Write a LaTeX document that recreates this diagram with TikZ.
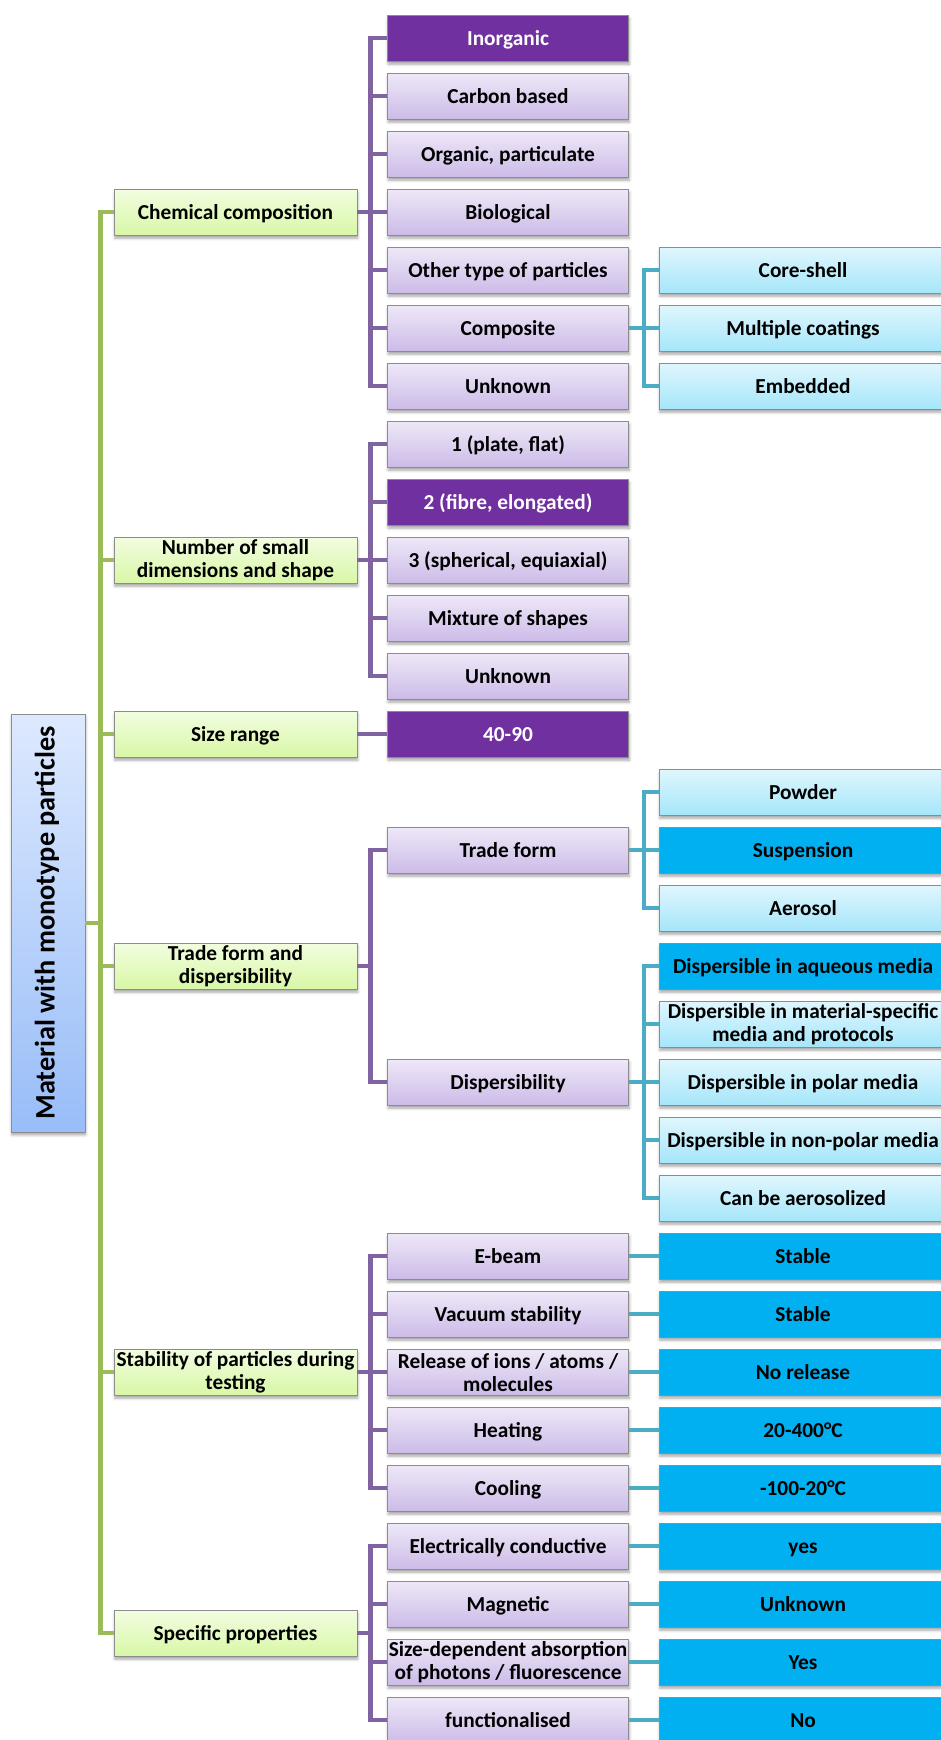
\documentclass[tikz,border=0pt]{standalone}
\usepackage{fontspec}
\setmainfont{Carlito}
\usetikzlibrary{shadows.blur}

\definecolor{rootTop}{RGB}{221,233,254}
\definecolor{rootBot}{RGB}{152,189,248}
\definecolor{greenTop}{RGB}{242,253,224}
\definecolor{greenBot}{RGB}{216,247,166}
\definecolor{lilacTop}{RGB}{238,232,247}
\definecolor{lilacBot}{RGB}{204,187,232}
\definecolor{purpleDark}{RGB}{112,48,160}
\definecolor{skyTop}{RGB}{224,246,253}
\definecolor{skyBot}{RGB}{165,230,250}
\definecolor{blueDark}{RGB}{0,176,240}
\definecolor{lineGreen}{RGB}{155,187,89}
\definecolor{linePurple}{RGB}{128,100,162}
\definecolor{lineTeal}{RGB}{75,172,198}

\tikzset{
  box/.style={draw=black!45, line width=0.6pt, minimum height=34.5pt, inner sep=1pt,
    align=center, font=\fontsize{16}{17.5}\selectfont\bfseries,
    text height=11.6pt, text depth=1.5pt,
    blur shadow={shadow xshift=0.6pt, shadow yshift=-2.2pt, shadow blur radius=2pt, shadow opacity=35}},
  twolines/.style={text height={}, text depth={}},
  rootbox/.style={box, rotate=90, minimum width=313.5pt, minimum height=55.5pt,
    top color=rootTop, bottom color=rootBot, font=\fontsize{21.2}{25}\selectfont\bfseries,
    text height=13pt, text depth=3pt},
  greenbox/.style={box, minimum width=182.25pt, top color=greenTop, bottom color=greenBot},
  lilacbox/.style={box, minimum width=181pt, top color=lilacTop, bottom color=lilacBot},
  purplebox/.style={box, minimum width=181pt, fill=purpleDark, text=white},
  skybox/.style={box, minimum width=216pt, top color=skyTop, bottom color=skyBot},
  bluebox/.style={box, minimum width=216pt, fill=blueDark},
  greenline/.style={draw=lineGreen, line width=3.2pt},
  purpleline/.style={draw=linePurple, line width=3.2pt},
  tealline/.style={draw=lineTeal, line width=3.2pt}
}

\begin{document}
\begin{tikzpicture}[x=0.75pt, y=-0.75pt]
    \useasboundingbox (0,0) rectangle (940,1740);

    % Root
    \node[rootbox] (root) at (48,923) {Material with monotype particles};

    % First level
    \node[greenbox] (chem)  at (235.5,212.3)  {Chemical composition};
    \node[greenbox, twolines] (dims)  at (235.5,560.3)  {Number of small\\dimensions and shape};
    \node[greenbox] (size)  at (235.5,734.3)  {Size range};
    \node[greenbox, twolines] (trade) at (235.5,966.3)  {Trade form and\\dispersibility};
    \node[greenbox, twolines] (stab)  at (235.5,1372.3) {Stability of particles during\\testing};
    \node[greenbox] (spec)  at (235.5,1633.3) {Specific properties};

    % Second level
    \node[purplebox] (inorg)   at (508,38.3)   {Inorganic};
    \node[lilacbox]  (carbon)  at (508,96.3)   {Carbon based};
    \node[lilacbox]  (organic) at (508,154.3)  {Organic, particulate};
    \node[lilacbox]  (bio)     at (508,212.3)  {Biological};
    \node[lilacbox]  (other)   at (508,270.3)  {Other type of particles};
    \node[lilacbox]  (compo)   at (508,328.3)  {Composite};
    \node[lilacbox]  (unkchem) at (508,386.3)  {Unknown};
    \node[lilacbox]  (plate)   at (508,444.3)  {1 (plate, flat)};
    \node[purplebox] (fibre)   at (508,502.3)  {2 (fibre, elongated)};
    \node[lilacbox]  (sphere)  at (508,560.3)  {3 (spherical, equiaxial)};
    \node[lilacbox]  (mix)     at (508,618.3)  {Mixture of shapes};
    \node[lilacbox]  (unkdim)  at (508,676.3)  {Unknown};
    \node[purplebox] (range)   at (508,734.3)  {40-90};
    \node[lilacbox]  (tform)   at (508,850.3)  {Trade form};
    \node[lilacbox]  (disp)    at (508,1082.3) {Dispersibility};
    \node[lilacbox]  (ebeam)   at (508,1256.3) {E-beam};
    \node[lilacbox]  (vac)     at (508,1314.3) {Vacuum stability};
    \node[lilacbox, twolines]  (release) at (508,1372.3) {Release of ions / atoms /\\molecules};
    \node[lilacbox]  (heat)    at (508,1430.3) {Heating};
    \node[lilacbox]  (cool)    at (508,1488.3) {Cooling};
    \node[lilacbox]  (elec)    at (508,1546.3) {Electrically conductive};
    \node[lilacbox]  (magn)    at (508,1604.3) {Magnetic};
    \node[lilacbox, twolines]  (absorb)  at (508,1662.3) {Size-dependent absorption\\of photons / fluorescence};
    \node[lilacbox]  (func)    at (508,1720.3) {functionalised};

    % Third level
    \node[skybox]  (core)    at (803,270.3)  {Core-shell};
    \node[skybox]  (multi)   at (803,328.3)  {Multiple coatings};
    \node[skybox]  (embed)   at (803,386.3)  {Embedded};
    \node[skybox]  (powder)  at (803,792.3)  {Powder};
    \node[bluebox] (susp)    at (803,850.3)  {Suspension};
    \node[skybox]  (aerosol) at (803,908.3)  {Aerosol};
    \node[bluebox] (aqueous) at (803,966.3)  {Dispersible in aqueous media};
    \node[skybox, twolines]  (matspec) at (803,1024.3) {Dispersible in material-specific\\media and protocols};
    \node[skybox]  (polar)   at (803,1082.3) {Dispersible in polar media};
    \node[skybox]  (nonpol)  at (803,1140.3) {Dispersible in non-polar media};
    \node[skybox]  (aerosz)  at (803,1198.3) {Can be aerosolized};
    \node[bluebox] (ebeamv)  at (803,1256.3) {Stable};
    \node[bluebox] (vacv)    at (803,1314.3) {Stable};
    \node[bluebox] (relv)    at (803,1372.3) {No release};
    \node[bluebox] (heatv)   at (803,1430.3) {20-400°C};
    \node[bluebox] (coolv)   at (803,1488.3) {-100-20°C};
    \node[bluebox] (elecv)   at (803,1546.3) {yes};
    \node[bluebox] (magnv)   at (803,1604.3) {Unknown};
    \node[bluebox] (absorbv) at (803,1662.3) {Yes};
    \node[bluebox] (funcv)   at (803,1720.3) {No};

    % Root to first level
    \draw[greenline] (root.south) -- ++(15,0) |- (chem.west)
        (root.south) -- ++(15,0) |- (dims.west)
        (root.south) -- ++(15,0) |- (size.west)
        (root.south) -- ++(15,0) |- (trade.west)
        (root.south) -- ++(15,0) |- (stab.west)
        (root.south) -- ++(15,0) |- (spec.west);

    % First to second level
    \draw[purpleline] (chem.east) -- ++(13,0) |- (inorg.west)
        (chem.east) -- ++(13,0) |- (carbon.west)
        (chem.east) -- ++(13,0) |- (organic.west)
        (chem.east) -- (bio.west)
        (chem.east) -- ++(13,0) |- (other.west)
        (chem.east) -- ++(13,0) |- (compo.west)
        (chem.east) -- ++(13,0) |- (unkchem.west);
    \draw[purpleline] (dims.east) -- ++(13,0) |- (plate.west)
        (dims.east) -- ++(13,0) |- (fibre.west)
        (dims.east) -- (sphere.west)
        (dims.east) -- ++(13,0) |- (mix.west)
        (dims.east) -- ++(13,0) |- (unkdim.west);
    \draw[purpleline] (size.east) -- (range.west);
    \draw[purpleline] (trade.east) -- ++(13,0) |- (tform.west)
        (trade.east) -- ++(13,0) |- (disp.west);
    \draw[purpleline] (stab.east) -- ++(13,0) |- (ebeam.west)
        (stab.east) -- ++(13,0) |- (vac.west)
        (stab.east) -- (release.west)
        (stab.east) -- ++(13,0) |- (heat.west)
        (stab.east) -- ++(13,0) |- (cool.west);
    \draw[purpleline] (spec.east) -- ++(13,0) |- (elec.west)
        (spec.east) -- ++(13,0) |- (magn.west)
        (spec.east) -- ++(13,0) |- (absorb.west)
        (spec.east) -- ++(13,0) |- (func.west);

    % Second to third level
    \draw[tealline] (compo.east) -- ++(15,0) |- (core.west)
        (compo.east) -- (multi.west)
        (compo.east) -- ++(15,0) |- (embed.west);
    \draw[tealline] (tform.east) -- ++(15,0) |- (powder.west)
        (tform.east) -- (susp.west)
        (tform.east) -- ++(15,0) |- (aerosol.west);
    \draw[tealline] (disp.east) -- ++(15,0) |- (aqueous.west)
        (disp.east) -- ++(15,0) |- (matspec.west)
        (disp.east) -- (polar.west)
        (disp.east) -- ++(15,0) |- (nonpol.west)
        (disp.east) -- ++(15,0) |- (aerosz.west);
    \draw[tealline] (ebeam.east) -- (ebeamv.west);
    \draw[tealline] (vac.east) -- (vacv.west);
    \draw[tealline] (release.east) -- (relv.west);
    \draw[tealline] (heat.east) -- (heatv.west);
    \draw[tealline] (cool.east) -- (coolv.west);
    \draw[tealline] (elec.east) -- (elecv.west);
    \draw[tealline] (magn.east) -- (magnv.west);
    \draw[tealline] (absorb.east) -- (absorbv.west);
    \draw[tealline] (func.east) -- (funcv.west);
\end{tikzpicture}
\end{document}
